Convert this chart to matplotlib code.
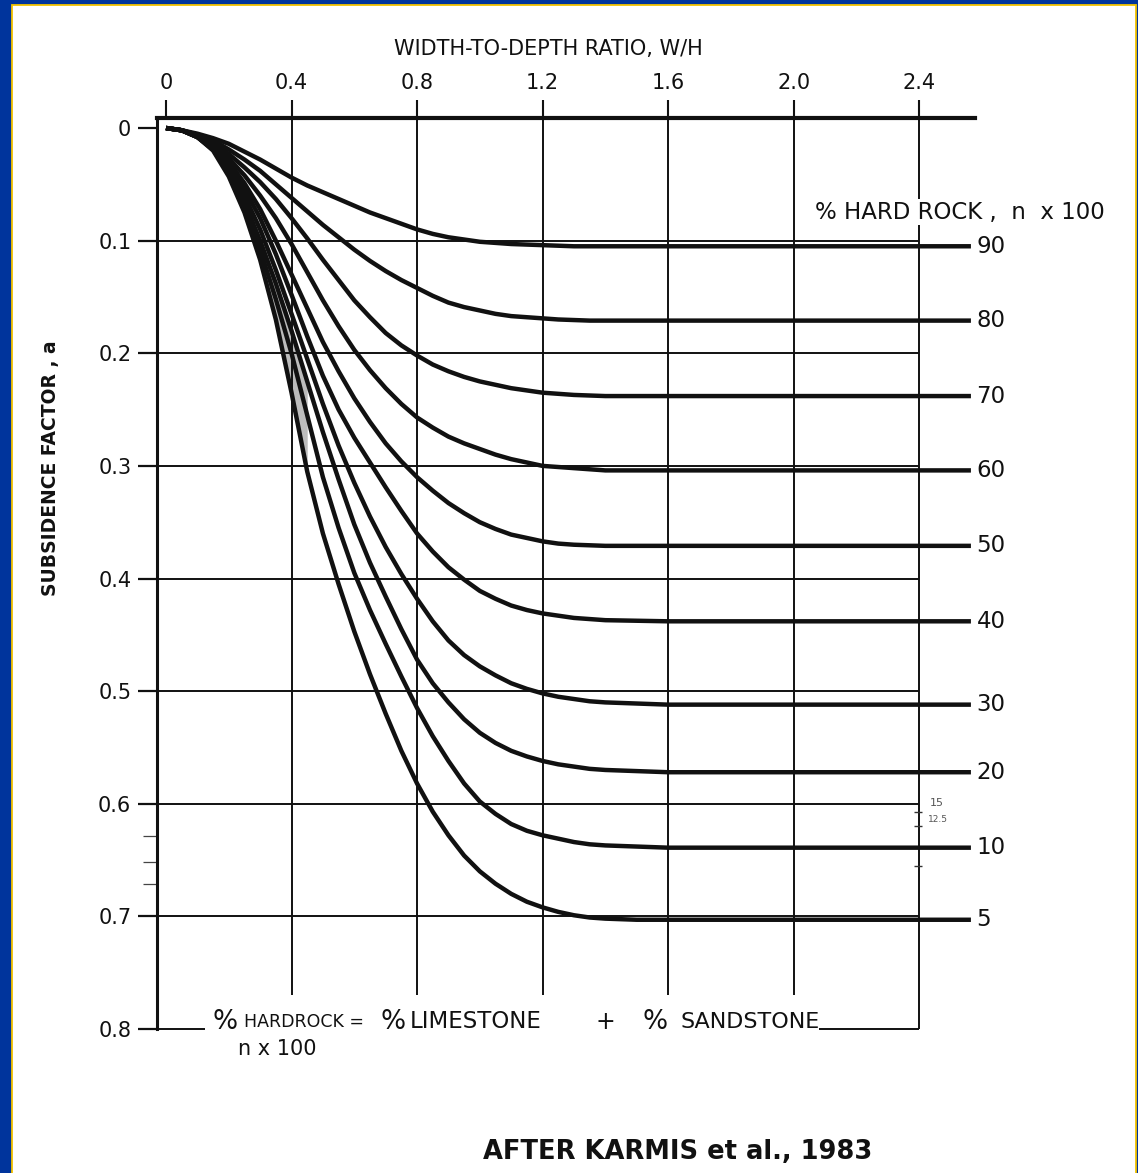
import matplotlib.pyplot as plt
from matplotlib.patches import Rectangle

W, H = 1138, 1173

# width-to-depth ratio W/H at which the curves were read
ratio = [0, 0.05, 0.1, 0.15, 0.2, 0.25, 0.3, 0.35, 0.4, 0.45, 0.5, 0.55, 0.6, 0.65,
         0.7, 0.75, 0.8, 0.85, 0.9, 0.95, 1.0, 1.05, 1.1, 1.15, 1.2, 1.25, 1.3, 1.35,
         1.4, 1.5, 1.6, 2.0, 2.565]

# subsidence factor a, one list per % hard rock curve
a_90 = [0, .002, .005, .009, .014, .021, .028, .036, .044, .051, .057, .063, .069, .075,
        .080, .085, .090, .094, .097, .099, .101, .102, .103, .1035, .104, .1045, .105,
        .105, .105, .105, .105, .105, .105]
a_80 = [0, .002, .006, .011, .019, .028, .038, .050, .062, .074, .086, .097, .108, .118,
        .127, .135, .142, .149, .155, .159, .162, .165, .167, .168, .169, .170, .1705,
        .171, .171, .171, .171, .171, .171]
a_70 = [0, .002, .006, .013, .023, .035, .048, .063, .080, .098, .117, .135, .153, .168,
        .182, .193, .202, .210, .216, .221, .225, .228, .231, .233, .235, .236, .237,
        .2375, .238, .238, .238, .238, .238]
a_60 = [0, .002, .007, .015, .027, .042, .060, .080, .103, .128, .153, .176, .197, .215,
        .231, .245, .257, .266, .274, .280, .285, .290, .294, .297, .300, .301, .302,
        .303, .304, .304, .304, .304, .304]
a_50 = [0, .002, .007, .016, .030, .049, .072, .100, .130, .160, .190, .216, .240, .261,
        .280, .296, .310, .322, .333, .342, .350, .356, .361, .364, .367, .369, .370,
        .3705, .371, .371, .371, .371, .371]
a_40 = [0, .002, .008, .017, .033, .054, .080, .112, .148, .185, .220, .250, .275, .297,
        .319, .340, .360, .376, .390, .401, .411, .418, .424, .428, .431, .433, .435,
        .436, .437, .4375, .438, .438, .438]
a_30 = [0, .002, .008, .018, .036, .060, .090, .126, .165, .205, .245, .282, .315, .345,
        .372, .396, .418, .438, .455, .468, .478, .486, .493, .498, .502, .505, .507,
        .509, .510, .511, .512, .512, .512]
a_20 = [0, .002, .008, .019, .038, .066, .100, .138, .180, .225, .270, .312, .352, .386,
        .416, .445, .472, .493, .510, .525, .537, .546, .553, .558, .562, .565, .567,
        .569, .570, .571, .572, .572, .572]
a_10 = [0, .002, .008, .019, .040, .070, .108, .152, .200, .255, .310, .355, .395, .428,
        .458, .487, .515, .540, .562, .582, .598, .609, .618, .624, .628, .631, .634,
        .636, .637, .638, .639, .639, .639]
a_5 = [0, .002, .008, .020, .043, .075, .117, .170, .235, .305, .360, .405, .447, .485,
       .520, .553, .582, .607, .628, .646, .660, .671, .680, .687, .692, .696, .699,
       .701, .702, .703, .703, .703, .703]

hard_rock = [90, 80, 70, 60, 50, 40, 30, 20, 10, 5]
curves = [a_90, a_80, a_70, a_60, a_50, a_40, a_30, a_20, a_10, a_5]

x_ticks = [0, 0.4, 0.8, 1.2, 1.6, 2.0, 2.4]
x_labels = ["0", "0.4", "0.8", "1.2", "1.6", "2.0", "2.4"]
y_ticks = [0, 0.1, 0.2, 0.3, 0.4, 0.5, 0.6, 0.7, 0.8]
y_labels = ["0", "0.1", "0.2", "0.3", "0.4", "0.5", "0.6", "0.7", "0.8"]

# stray pencil marks on the left axis and on the 2.4 line
left_marks = [0.629, 0.652, 0.671]
right_marks = [0.607, 0.620, 0.655]

ink = "#111111"


def fx(px):
    return px / W


def fy(py):
    return 1 - py / H


fig = plt.figure(figsize=(W / 100, H / 100), dpi=100, facecolor="#00349c")
# white sheet with a thin yellow rim inside the blue frame
fig.patches.append(Rectangle((fx(11.5), -0.02), fx(1136) - fx(11.5), fy(4.5) + 0.02,
                             transform=fig.transFigure, facecolor="white",
                             edgecolor="#f2c200", linewidth=1.3, zorder=-10))

x_left, x_right = -0.0287, 2.578
y_top, y_bottom = -0.0089, 0.8
ax = fig.add_axes([fx(157), fy(1029), fx(975) - fx(157), fy(118) - fy(1029)])
ax.set_xlim(x_left, x_right)
ax.set_ylim(y_bottom, y_top)
ax.patch.set_alpha(0)

for side in ["right", "bottom"]:
    ax.spines[side].set_visible(False)
ax.spines["top"].set_linewidth(3.0)
ax.spines["left"].set_linewidth(2.2)
ax.spines["top"].set_color(ink)
ax.spines["left"].set_color(ink)

ax.xaxis.tick_top()
ax.xaxis.set_label_position("top")
ax.set_xticks(x_ticks)
ax.set_xticklabels(x_labels)
ax.set_yticks(y_ticks)
ax.set_yticklabels(y_labels)
ax.tick_params(axis="x", direction="out", length=13, width=1.5, pad=5,
               labelsize=15, colors=ink)
ax.tick_params(axis="y", direction="out", length=13.5, width=1.6, pad=5,
               labelsize=15, colors=ink)

ax.set_xlabel("WIDTH-TO-DEPTH RATIO, W/H", fontsize=15, color=ink)
ax.xaxis.set_label_coords((548 - 157) / 818, (1029 - 55) / 911)
ax.set_ylabel("SUBSIDENCE FACTOR , a", fontsize=13.5, fontweight="bold", color=ink)
ax.yaxis.set_label_coords((60 - 157) / 818, (1029 - 468) / 911)

# grid lines of the original chart
ax.hlines(y_ticks[1:-1], x_left, 2.4, color=ink, lw=1.4)
ax.vlines(x_ticks[1:-1], y_top, 0.77, color=ink, lw=1.4)
ax.vlines(x_ticks[-1], y_top, y_bottom, color=ink, lw=1.4)
ax.hlines(y_bottom, x_left, 0.124, color=ink, lw=1.4, clip_on=False)
ax.hlines(y_bottom, 2.08, 2.4, color=ink, lw=1.4, clip_on=False)
ax.hlines(left_marks, x_left - 0.045, x_left, color="#444444", lw=0.9, clip_on=False)
ax.hlines(right_marks, 2.385, 2.41, color="#333333", lw=1.0)

# stippled band where the curves crowd together
ax.fill_between(ratio[1:10], a_5[1:10], a_20[1:10], color="0.25", alpha=0.35, lw=0)

for n, a in zip(hard_rock, curves):
    ax.plot(ratio, a, color=ink, lw=3.2, solid_capstyle="butt", solid_joinstyle="round")
    ax.text(2.583, a[-1], str(n), fontsize=16.5, color=ink, ha="left", va="center",
            clip_on=False)

fig.text(fx(815), fy(212), "% HARD ROCK ,  n  x 100", fontsize=16.5, color=ink,
         va="center", ha="left",
         bbox=dict(facecolor="white", edgecolor="none", pad=1))

# formula along the bottom line
fig.text(fx(212), fy(1022), "%", fontsize=19, color=ink, va="center")
fig.text(fx(244), fy(1022), "HARDROCK =", fontsize=12.5, color=ink, va="center")
fig.text(fx(380), fy(1022), "%", fontsize=19, color=ink, va="center")
fig.text(fx(410), fy(1022), "LIMESTONE", fontsize=16.5, color=ink, va="center")
fig.text(fx(596), fy(1022), "+", fontsize=17, color=ink, va="center")
fig.text(fx(643), fy(1022), "%", fontsize=19, color=ink, va="center")
fig.text(fx(680), fy(1022), "SANDSTONE", fontsize=16, color=ink, va="center")
fig.text(fx(238), fy(1049), "n x 100", fontsize=15, color=ink, va="center")

# pencil notes by the 2.4 line
fig.text(fx(930), fy(803), "15", fontsize=8, color="#555555", va="center")
fig.text(fx(928), fy(820), "12.5", fontsize=6.5, color="#555555", va="center")

fig.text(fx(678), fy(1152), "AFTER KARMIS et al., 1983", fontsize=18.5,
         fontweight="bold", color=ink, ha="center", va="center")

fig.savefig("out.png", dpi=100, facecolor=fig.get_facecolor())
